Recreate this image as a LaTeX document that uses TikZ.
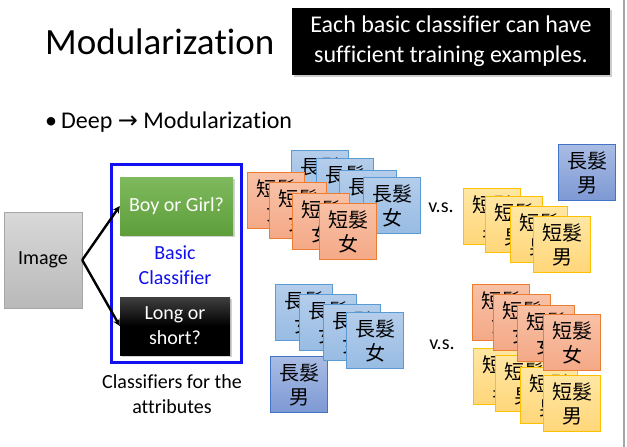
\documentclass[tikz,border=0pt]{standalone}
\usepackage{fontspec}
\setmainfont[RawFeature={-liga;-clig;-dlig;-calt}]{Carlito}
\newfontfamily\cjk{Noto Sans CJK TC}
\newfontfamily\dejavu{DejaVu Sans}
\usetikzlibrary{arrows.meta,shadows}
\definecolor{obord}{HTML}{ED7D31}
\definecolor{otop}{HTML}{F8C1A6}
\definecolor{obot}{HTML}{F4A987}
\definecolor{bbord}{HTML}{5B9BD5}
\definecolor{btop}{HTML}{B4CDEB}
\definecolor{bbot}{HTML}{98BCE3}
\definecolor{ybord}{HTML}{FFC000}
\definecolor{ytop}{HTML}{FFE7A3}
\definecolor{ybot}{HTML}{FFD67A}
\definecolor{dbord}{HTML}{4472C4}
\definecolor{dtop}{HTML}{A9BCE4}
\definecolor{dbot}{HTML}{7D99D4}
\definecolor{gtop}{HTML}{7FBA5E}
\definecolor{gbot}{HTML}{5E9E3A}
\definecolor{clsblue}{HTML}{1010F0}
\tikzset{
  card/.style={draw, line width=1pt, minimum width=57pt, minimum height=56pt,
    anchor=north west, inner sep=0pt, align=center,
    font=\cjk\fontsize{20}{24}\selectfont},
  ocard/.style={card, draw=obord, top color=otop, bottom color=obot},
  bcard/.style={card, draw=bbord, top color=btop, bottom color=bbot},
  ycard/.style={card, draw=ybord, top color=ytop, bottom color=ybot},
  dcard/.style={card, draw=dbord, top color=dtop, bottom color=dbot},
  txt/.style={inner sep=0pt, font=\fontsize{20}{25}\selectfont, align=center},
  arr/.style={line width=2.4pt, -{Stealth[length=7pt,width=7pt]}},
}
\begin{document}
\begin{tikzpicture}[x=1pt,y=-1pt]
\useasboundingbox (0,0) rectangle (627,447);
\fill[white] (0,0) rectangle (627,447);
\draw[gray!70, line width=1.2pt] (624,0) coordinate (ea) -- (624,447) coordinate (eb);

% title
\node[anchor=base west, inner sep=0pt, font=\fontsize{37}{40}\selectfont] (title) at (45,54) {Modulariza\kern0pt tion};
\node[fill=black, drop shadow={shadow xshift=2pt, shadow yshift=-2pt, opacity=0.4},
  minimum width=318pt, minimum height=67pt, inner sep=0pt, text=white, align=center,
  font=\fontsize{24}{30}\selectfont] (note) at (451,41.5)
  {Each basic classif\kern0pt ier can have\\suf\kern0pt f\kern0pt icient training examples.};

% bullet
\node[anchor=base west, inner sep=0pt, font=\fontsize{24}{28}\selectfont] (bul) at (45,128) {•};
\node[anchor=base west, inner sep=0pt, font=\fontsize{24}{28}\selectfont] (deep) at (61,128) {Deep {\dejavu\fontsize{24}{28}\selectfont →} Modulariza\kern0pt tion};

% image and classifiers
\node[draw=gray!70, top color=gray!30, bottom color=gray!55, minimum width=78pt, minimum height=96pt,
  inner sep=0pt, font=\fontsize{20}{24}\selectfont] (img) at (43,260) {Image};
\node[draw=clsblue, line width=3pt, minimum width=130pt, minimum height=198pt, inner sep=0pt] (clsbox) at (176,263) {};
\node[top color=gtop, bottom color=gbot, drop shadow={shadow xshift=2pt, shadow yshift=-2pt, opacity=0.35},
  minimum width=113pt, minimum height=58pt, inner sep=0pt, text=white,
  font=\fontsize{20}{24}\selectfont] (boy) at (176.5,206) {Boy or Girl?};
\node[top color=black!75, bottom color=black, middle color=black, drop shadow={shadow xshift=2pt, shadow yshift=-2pt, opacity=0.35},
  minimum width=110pt, minimum height=58pt, inner sep=0pt, text=white, align=center,
  font=\fontsize{20}{25}\selectfont] (long) at (175,326) {Long or\\short?};
\node[txt, text=clsblue] (basic) at (175,265) {Basic\\Classif\kern0pt ier};
\node[txt] (attr) at (172,394) {Classif\kern0pt iers for the\\attributes};
\draw[arr] (img.east) -- (boy.west);
\draw[arr] (img.east) -- (long.west);

% top-left group
\node[bcard] (tb1) at (291,150) {長髮\\女};
\node[bcard] (tb2) at (316,158) {長髮\\女};
\node[bcard] (tb3) at (339,170) {長髮\\女};
\node[bcard] (tb4) at (363,177) {長髮\\女};
\node[ocard] (to1) at (247,172) {短髮\\女};
\node[ocard] (to2) at (269,182) {短髮\\女};
\node[ocard] (to3) at (292,193) {短髮\\女};
\node[ocard] (to4) at (319,203) {短髮\\女};
\node[txt] (vs1) at (441,208) {v.s.};

% top-right group
\node[dcard] (tm) at (558,144) {長髮\\男};
\node[ycard] (ty1) at (463,188) {短髮\\男};
\node[ycard] (ty2) at (485,196) {短髮\\男};
\node[ycard] (ty3) at (510,206) {短髮\\男};
\node[ycard] (ty4) at (533,216) {短髮\\男};

% bottom-left group
\node[dcard] (bm) at (270,356) {長髮\\男};
\node[bcard] (bb1) at (275,284) {長髮\\女};
\node[bcard] (bb2) at (299,294) {長髮\\女};
\node[bcard] (bb3) at (323,304) {長髮\\女};
\node[bcard] (bb4) at (346,312) {長髮\\女};
\node[txt] (vs2) at (442,345) {v.s.};

% bottom-right group
\node[ycard] (by1) at (473,348) {短髮\\男};
\node[ycard] (by2) at (495,355) {短髮\\男};
\node[ycard] (by3) at (520,367) {短髮\\男};
\node[ycard] (by4) at (543,375) {短髮\\男};
\node[ocard] (bo1) at (472,284) {短髮\\女};
\node[ocard] (bo2) at (493,294) {短髮\\女};
\node[ocard] (bo3) at (517,305) {短髮\\女};
\node[ocard] (bo4) at (543,314) {短髮\\女};
\end{tikzpicture}
\end{document}
